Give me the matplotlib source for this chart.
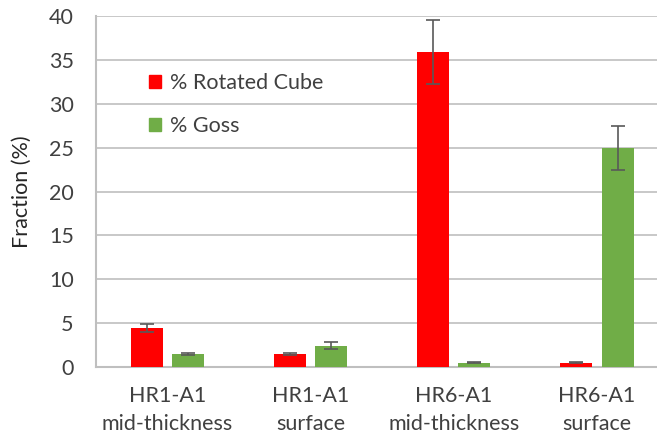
import matplotlib
matplotlib.use("Agg")
import matplotlib.pyplot as plt
import numpy as np
from matplotlib.patches import Patch

plt.rcParams['font.family'] = ['Lato', 'DejaVu Sans']

categories = ["HR1-A1\nmid-thickness", "HR1-A1\nsurface", "HR6-A1\nmid-thickness", "HR6-A1\nsurface"]
rot_cube = [4.45, 1.5, 35.9, 0.5]
rot_cube_err = [0.5, 0.12, 3.6, 0.08]
goss = [1.5, 2.45, 0.5, 25.0]
goss_err = [0.15, 0.35, 0.08, 2.5]
series_names = ["% Rotated Cube", "% Goss"]
yticks = [0, 5, 10, 15, 20, 25, 30, 35, 40]

red = "#ff0000"
green = "#70ad47"
errc = "#595959"
fs = 15.5

fig = plt.figure(figsize=(6.57, 4.41), dpi=100)
ax = fig.add_axes([96/657, 1-367/441, 572.5/657, (367-16)/441])

x = np.arange(len(categories))
w = 0.224
off = 0.144
ax.bar(x - off, rot_cube, w, color=red, zorder=3)
ax.bar(x + off, goss, w, color=green, zorder=3)
ax.errorbar(x - off, rot_cube, yerr=rot_cube_err, fmt='none', ecolor=errc, elinewidth=1.2, capsize=5, capthick=1.2, zorder=4)
ax.errorbar(x + off, goss, yerr=goss_err, fmt='none', ecolor=errc, elinewidth=1.2, capsize=5, capthick=1.2, zorder=4)

ax.set_xlim(-0.5, len(categories) - 0.5)
ax.set_ylim(0, 40)
ax.set_yticks(yticks)
ax.set_yticklabels([str(t) for t in yticks], fontsize=fs, color="#404040")
ax.set_xticks(x)
ax.set_xticklabels(categories, fontsize=fs, color="#404040", linespacing=1.5)
ax.tick_params(axis='x', length=0, pad=14)
ax.tick_params(axis='y', length=0, pad=16)
ax.yaxis.grid(True, color="#bfbfbf", linewidth=1.2, zorder=0)
ax.set_axisbelow(True)
for s in ['top', 'right']:
    ax.spines[s].set_visible(False)
ax.spines['left'].set_color("#bfbfbf")
ax.spines['bottom'].set_color("#bfbfbf")
ax.spines['left'].set_linewidth(1.5)
ax.spines['bottom'].set_linewidth(1.5)
ax.set_ylabel("Fraction (%)", fontsize=fs, color="#262626", labelpad=12)

handles = [Patch(color=red, label=series_names[0]), Patch(color=green, label=series_names[1])]
leg = fig.legend(handles=handles, loc='upper left', bbox_to_anchor=(130/657, 1-54/441),
                 frameon=False, fontsize=fs, handlelength=0.55, handleheight=0.55,
                 handletextpad=0.4, labelspacing=1.05, labelcolor="#404040")

fig.savefig("out.png", dpi=100)
